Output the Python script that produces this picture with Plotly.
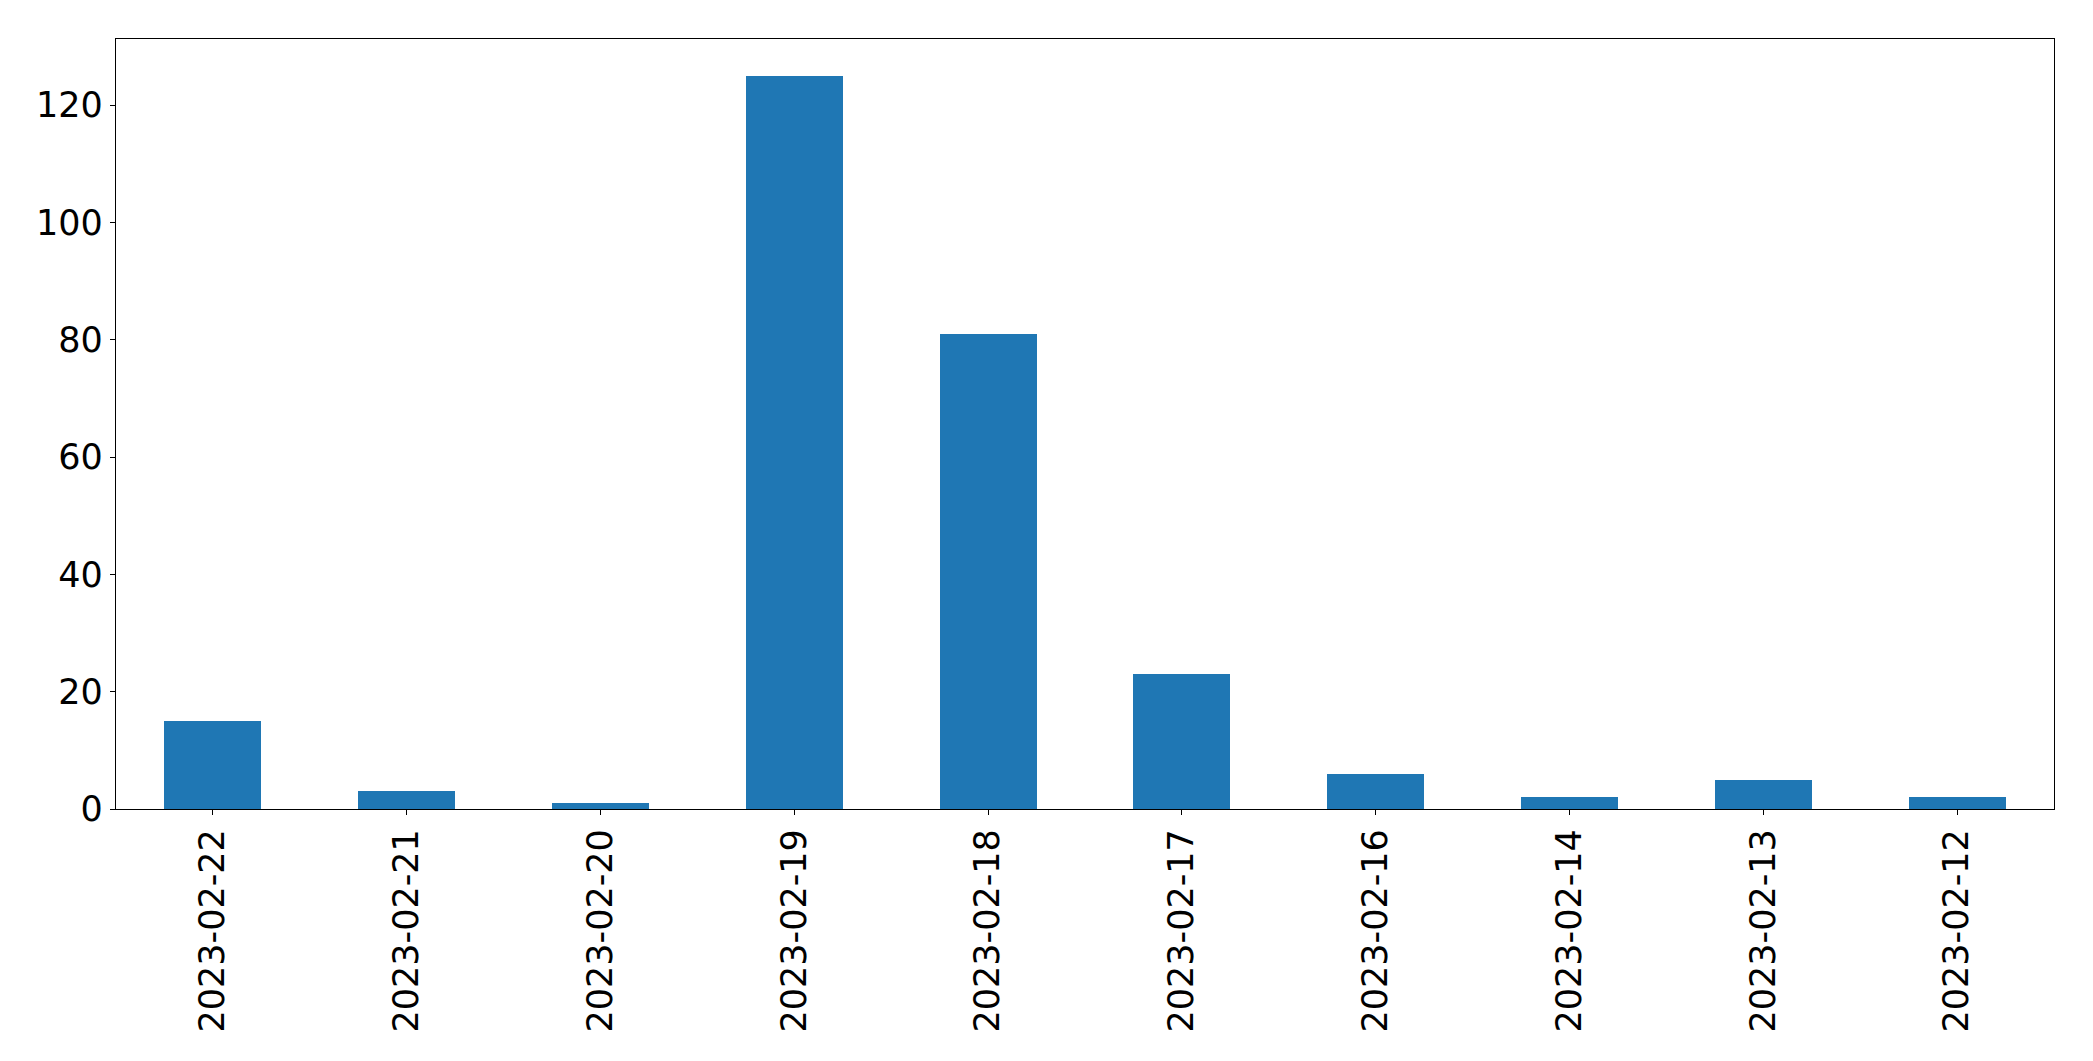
import plotly.graph_objects as go

dates = ["2023-02-22", "2023-02-21", "2023-02-20", "2023-02-19", "2023-02-18",
         "2023-02-17", "2023-02-16", "2023-02-14", "2023-02-13", "2023-02-12"]
counts = [15, 3, 1, 125, 81, 23, 6, 2, 5, 2]
y_ticks = [0, 20, 40, 60, 80, 100, 120]

fig = go.Figure(go.Bar(x=dates, y=counts, width=0.5, marker_color="#1f77b4",
                       marker_line_width=0))

fig.update_layout(
    width=2077, height=1045,
    margin=dict(l=108, r=31, t=31, b=244),
    plot_bgcolor="white", paper_bgcolor="white",
    font=dict(family="DejaVu Sans", size=35, color="black"),
    showlegend=False,
    bargap=0,
)
fig.update_xaxes(type="category", range=[-0.5, 9.5], tickangle=-90,
                 ticks="outside", ticklen=5, tickwidth=1.3, tickcolor="black",
                 showline=True, linecolor="black", linewidth=1.3, mirror=True,
                 showgrid=False, zeroline=False, tickfont=dict(size=35))
fig.update_yaxes(range=[0, 131.25], tickvals=y_ticks,
                 ticks="outside", ticklen=5, tickwidth=1.3, tickcolor="black",
                 showline=True, linecolor="black", linewidth=1.3, mirror=True,
                 showgrid=False, zeroline=False, tickfont=dict(size=35))

fig.write_html("out.html")
